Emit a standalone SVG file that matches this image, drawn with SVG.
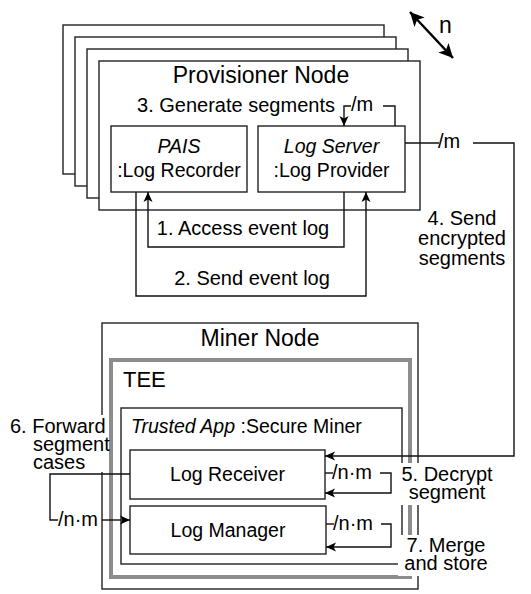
<svg xmlns="http://www.w3.org/2000/svg" width="531" height="594" viewBox="0 0 531 594">
<style>
  text { font-family: "Liberation Sans", Arial, sans-serif; fill: #000; }
  .title { font-size: 23px; }
  .lbl { font-size: 20px; }
  .box { font-size: 19.5px; }
  .it { font-style: italic; }
  .frame { fill: #fff; stroke: #222; stroke-width: 1.4; }
  .conn { fill: none; stroke: #111; stroke-width: 1.4; }
  .tee { fill: none; stroke: #8c8c8c; stroke-width: 4; }
  .bg { fill: #fff; stroke: none; }
</style>
<defs>
  <marker id="ah" markerUnits="userSpaceOnUse" markerWidth="10" markerHeight="10" refX="10" refY="5" orient="auto">
    <path d="M0,0.5 L10,5 L0,9.5 L2.5,5 z" fill="#000"/>
  </marker>
  <marker id="big" markerUnits="userSpaceOnUse" markerWidth="15" markerHeight="15" refX="14" refY="7.5" orient="auto-start-reverse">
    <path d="M0,0.5 L14,7.5 L0,14.5 L3.5,7.5 z" fill="#000"/>
  </marker>
</defs>

<g id="provisioner-stack">
  <rect class="frame" x="63" y="25" width="321" height="149"/>
  <rect class="frame" x="75" y="37" width="321" height="149"/>
  <rect class="frame" x="87" y="49" width="321" height="149"/>
</g>
<g id="provisioner-node">
  <rect class="frame" x="99" y="61" width="321" height="149"/>
  <text class="title" x="261" y="83" text-anchor="middle">Provisioner Node</text>
</g>
<g id="multiplicity-n">
  <line x1="410" y1="12" x2="453" y2="58" stroke="#000" stroke-width="2.5" marker-start="url(#big)" marker-end="url(#big)"/>
  <text class="title" x="439" y="33">n</text>
</g>
<g id="log-recorder">
  <rect class="frame" x="111" y="126" width="136" height="66"/>
  <text class="box it" x="179" y="153" text-anchor="middle">PAIS</text>
  <text class="box" x="179" y="177" text-anchor="middle">:Log Recorder</text>
</g>
<g id="log-provider">
  <rect class="frame" x="258" y="126" width="147" height="66"/>
  <text class="box it" x="331.5" y="153" text-anchor="middle">Log Server</text>
  <text class="box" x="331.5" y="177" text-anchor="middle">:Log Provider</text>
</g>

<g id="miner-node">
  <rect class="frame" x="102" y="323" width="316" height="266"/>
  <text class="title" x="260" y="346" text-anchor="middle">Miner Node</text>
</g>
<g id="tee">
  <rect class="tee" x="111" y="360" width="299" height="217"/>
  <text class="title" x="123" y="387" style="font-size:22px">TEE</text>
</g>
<g id="trusted-app">
  <rect class="frame" x="121" y="408" width="281" height="156"/>
  <text class="box" x="131" y="433"><tspan class="it">Trusted App</tspan> :Secure Miner</text>
</g>
<g id="log-receiver">
  <rect class="frame" x="130" y="450" width="195" height="49"/>
  <text class="box" x="227.5" y="481" text-anchor="middle">Log Receiver</text>
</g>
<g id="log-manager">
  <rect class="frame" x="130" y="506" width="196" height="48"/>
  <text class="box" x="228" y="537" text-anchor="middle">Log Manager</text>
</g>

<g id="connectors">
  <!-- 3. Generate segments self loop -->
  <polyline class="conn" points="395,126 395,106 383,106"/>
  <polyline class="conn" points="351,106 344,106 344,126" marker-end="url(#ah)"/>
  <text class="lbl" x="351" y="111">/m</text>
  <!-- 1. Access event log -->
  <polyline class="conn" points="344,192 344,247 148,247 148,192" marker-end="url(#ah)"/>
  <!-- 2. Send event log -->
  <polyline class="conn" points="136,192 136,296 366,296 366,192" marker-end="url(#ah)"/>
  <!-- 4. Send encrypted segments -->
  <line class="conn" x1="405" y1="143" x2="439" y2="143"/>
  <text class="lbl" x="438" y="148">/m</text>
  <polyline class="conn" points="473,143 514,143 514,456 325,456" marker-end="url(#ah)"/>
  <!-- 5. Decrypt segment loop -->
  <line class="conn" x1="325" y1="473" x2="333" y2="473"/>
  <text class="lbl" x="332" y="479">/n·m</text>
  <polyline class="conn" points="380,473 391,473 391,493 325,493" marker-end="url(#ah)"/>
  <!-- 6. Forward segment cases -->
  <polyline class="conn" points="130,474 50,474 50,520 58,520"/>
  <text class="lbl" x="58" y="526">/n·m</text>
  <line class="conn" x1="102" y1="520" x2="130" y2="520" marker-end="url(#ah)"/>
  <!-- 7. Merge and store loop -->
  <line class="conn" x1="326" y1="524" x2="334" y2="524"/>
  <text class="lbl" x="333" y="530">/n·m</text>
  <polyline class="conn" points="381,524 391,524 391,547 326,547" marker-end="url(#ah)"/>
</g>

<g id="labels">
  <text class="lbl" x="236" y="112" text-anchor="middle">3. Generate segments</text>
  <text class="lbl" x="243" y="235" text-anchor="middle">1. Access event log</text>
  <text class="lbl" x="252" y="285" text-anchor="middle">2. Send event log</text>
  <text class="lbl" text-anchor="middle"><tspan x="462" y="225">4. Send</tspan><tspan x="462" y="245">encrypted</tspan><tspan x="462" y="265">segments</tspan></text>
  <rect class="bg" x="398" y="463" width="98" height="42"/>
  <text class="lbl" text-anchor="middle"><tspan x="447" y="481">5. Decrypt</tspan><tspan x="447" y="499">segment</tspan></text>
  <rect class="bg" x="7" y="415" width="99" height="57"/>
  <text class="lbl"><tspan x="10" y="433">6. Forward</tspan><tspan x="33" y="451">segment</tspan><tspan x="33" y="469">cases</tspan></text>
  <rect class="bg" x="398" y="535" width="98" height="41"/>
  <text class="lbl" text-anchor="middle"><tspan x="446" y="552">7. Merge</tspan><tspan x="446" y="570">and store</tspan></text>
</g>
</svg>
